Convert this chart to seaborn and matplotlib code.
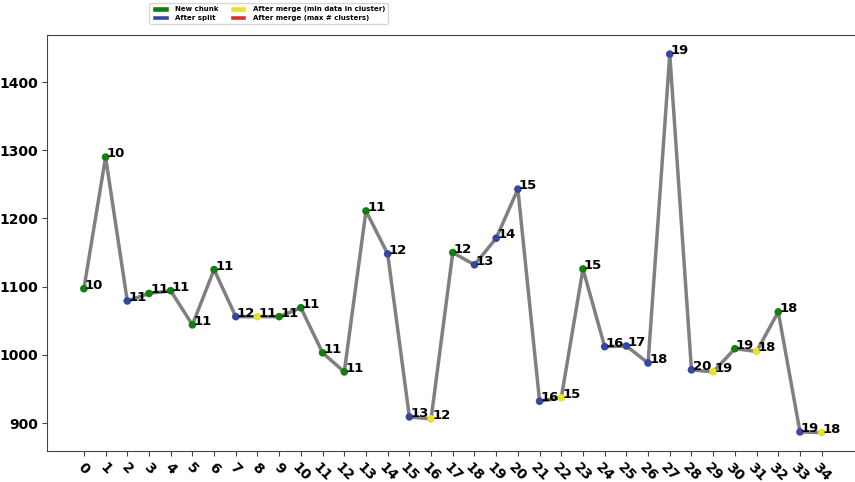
import numpy as np
import pandas as pd
import matplotlib
matplotlib.use("Agg")
import matplotlib.pyplot as plt
import seaborn as sns
from matplotlib.patches import Patch

# data
steps = list(range(35))
values = [1097, 1290, 1079, 1090, 1094, 1044, 1125, 1056, 1056, 1056,
          1069, 1003, 975, 1211, 1148, 909, 906, 1150, 1132, 1171,
          1243, 932, 937, 1126, 1012, 1013, 988, 1441, 978, 975,
          1009, 1005, 1063, 887, 886]
n_clusters = [10, 10, 11, 11, 11, 11, 11, 12, 11, 11,
              11, 11, 11, 11, 12, 13, 12, 12, 13, 14,
              15, 16, 15, 15, 16, 17, 18, 19, 20, 19,
              19, 18, 18, 19, 18]
events = ["new", "new", "split", "new", "new", "new", "new", "split", "merge_min", "new",
          "new", "new", "new", "new", "split", "split", "merge_min", "new", "split", "split",
          "split", "split", "merge_min", "new", "split", "split", "split", "split", "split", "merge_min",
          "new", "merge_min", "new", "split", "merge_min"]

EVENT_COLORS = {
    "new": "#0f800f",
    "split": "#3347a3",
    "merge_min": "#e8e22e",
    "merge_max": "#dd3326",
}
LEGEND_LABELS = {
    "new": "New chunk",
    "split": "After split",
    "merge_min": "After merge (min data in cluster)",
    "merge_max": "After merge (max # clusters)",
}

df = pd.DataFrame({"step": steps, "value": values, "k": n_clusters, "event": events})

sns.set_style("white")
plt.rcParams["text.color"] = "black"
plt.rcParams["xtick.color"] = "#444444"
plt.rcParams["ytick.color"] = "#444444"
plt.rcParams["xtick.labelcolor"] = "black"
plt.rcParams["ytick.labelcolor"] = "black"

fig = plt.figure(figsize=(8.55, 4.82), dpi=100)
ax = fig.add_axes([47 / 855, 31 / 482, 830 / 855, 416 / 482])

sns.lineplot(data=df, x="step", y="value", color="gray", linewidth=2.5, ax=ax, zorder=1)
sns.scatterplot(data=df, x="step", y="value", hue="event", palette=EVENT_COLORS,
                s=30, edgecolor="none", legend=False, ax=ax, zorder=2)

for _, row in df.iterrows():
    ax.text(row["step"] + 0.05, row["value"], str(row["k"]),
            fontsize=9.5, fontweight="bold", ha="left", va="baseline", color="black")

ax.set_xlim(-1.7, 36.55)
ax.set_ylim(859, 1469)
ax.set_xticks(steps)
ax.set_xticklabels([str(s) for s in steps], rotation=-45, ha="center",
                   fontsize=10, fontweight="bold")
ax.set_yticks([900, 1000, 1100, 1200, 1300, 1400])
ax.set_yticklabels(["900", "1000", "1100", "1200", "1300", "1400"],
                   fontsize=10, fontweight="bold")
ax.tick_params(axis="both", length=3.5, width=0.8, pad=3, bottom=True, left=True)
ax.set_xlabel("")
ax.set_ylabel("")
for side in ["left", "bottom", "top", "right"]:
    ax.spines[side].set_color("#444444")
    ax.spines[side].set_linewidth(0.8)

handles = [Patch(facecolor=EVENT_COLORS[e], label=LEGEND_LABELS[e])
           for e in ["new", "split", "merge_min", "merge_max"]]
fig.legend(handles=handles, ncol=2, loc="upper left", bbox_to_anchor=(146 / 855, 1.0),
           prop={"size": 5, "weight": "bold"}, frameon=True, handlelength=2.4,
           handleheight=0.8, columnspacing=1.6, borderpad=0.4, labelspacing=0.35,
           handletextpad=0.9)

fig.savefig("out.png", dpi=100)
